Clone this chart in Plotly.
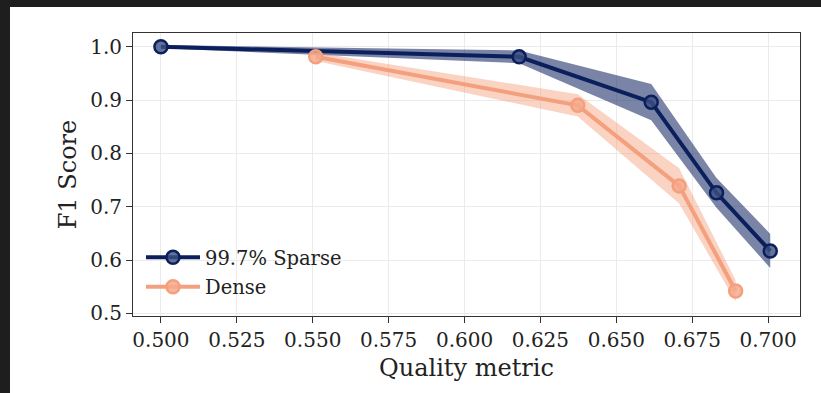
import plotly.graph_objects as go

sparse_x = [0.500, 0.618, 0.6615, 0.683, 0.7007]
sparse_y = [1.000, 0.981, 0.896, 0.726, 0.617]
sparse_err = [0.003, 0.012, 0.034, 0.028, 0.032]

dense_x = [0.551, 0.6373, 0.6707, 0.6893]
dense_y = [0.981, 0.890, 0.739, 0.542]
dense_err = [0.008, 0.021, 0.033, 0.020]

x_ticks = [0.500, 0.525, 0.550, 0.575, 0.600, 0.625, 0.650, 0.675, 0.700]
y_ticks = [0.5, 0.6, 0.7, 0.8, 0.9, 1.0]

NAVY = "#0b1f5c"
SALMON = "#f4a07e"
FONT = "DejaVu Serif"

fig = go.Figure()

def band(xs, ys, es, fill):
    up = [y + e for y, e in zip(ys, es)]
    lo = [y - e for y, e in zip(ys, es)]
    fig.add_trace(go.Scatter(
        x=list(xs) + list(xs)[::-1], y=up + lo[::-1],
        fill="toself", fillcolor=fill, line=dict(width=0),
        mode="lines", hoverinfo="skip", showlegend=False))

band(sparse_x, sparse_y, sparse_err, "rgba(11,31,92,0.55)")
band(dense_x, dense_y, dense_err, "rgba(244,150,110,0.42)")

fig.add_trace(go.Scatter(
    x=sparse_x, y=sparse_y, name="99.7% Sparse", mode="lines+markers", legendgroup="a",
    line=dict(color=NAVY, width=4),
    marker=dict(size=13, color="rgba(60,80,130,0.8)", line=dict(color=NAVY, width=2.5))))
fig.add_trace(go.Scatter(
    x=dense_x, y=dense_y, name="Dense", mode="lines+markers", legendgroup="b",
    line=dict(color=SALMON, width=4),
    marker=dict(size=13, color="rgba(244,170,140,0.85)", line=dict(color=SALMON, width=2.5))))

L, R, T, B = 133, 21, 33, 77
W, H = 821, 393
pw, ph = W - L - R, H - T - B

fig.add_shape(type="rect", xref="paper", yref="paper",
              x0=(10 - L) / pw, x1=(W + 5 - L) / pw,
              y0=-(B + 5) / ph, y1=(ph + T - 7) / ph,
              fillcolor="white", line=dict(width=0), layer="below")

axis_common = dict(showline=True, mirror=True, linecolor="#333333", linewidth=1,
                   showgrid=True, gridcolor="#ebebeb", gridwidth=1,
                   ticks="outside", ticklen=6, tickcolor="#333333", zeroline=False,
                   automargin=False,
                   tickfont=dict(family=FONT, size=20, color="#222222"))

fig.update_xaxes(range=[0.4908, 0.7105], tickvals=x_ticks, tickformat=".3f",
                 title=dict(text="Quality metric", font=dict(family=FONT, size=24, color="#222222"), standoff=8),
                 **axis_common)
fig.update_yaxes(range=[0.495, 1.0257], tickvals=y_ticks, tickformat=".1f",
                 title=dict(text="F1 Score", font=dict(family=FONT, size=24, color="#222222"), standoff=6),
                 **axis_common)

fig.update_layout(
    width=W, height=H,
    margin=dict(l=L, r=R, t=T, b=B),
    paper_bgcolor="#1e1e1e", plot_bgcolor="white",
    legend=dict(x=0.012, y=0.275, xanchor="left", yanchor="top",
                bgcolor="rgba(0,0,0,0)", font=dict(family=FONT, size=19.5, color="#222222"),
                itemwidth=54, tracegroupgap=1, traceorder="grouped"),
    font=dict(family=FONT),
)

fig.write_html("out.html", config={"displayModeBar": False},
               post_script="document.body.style.margin='0';document.body.style.overflow='hidden';")
